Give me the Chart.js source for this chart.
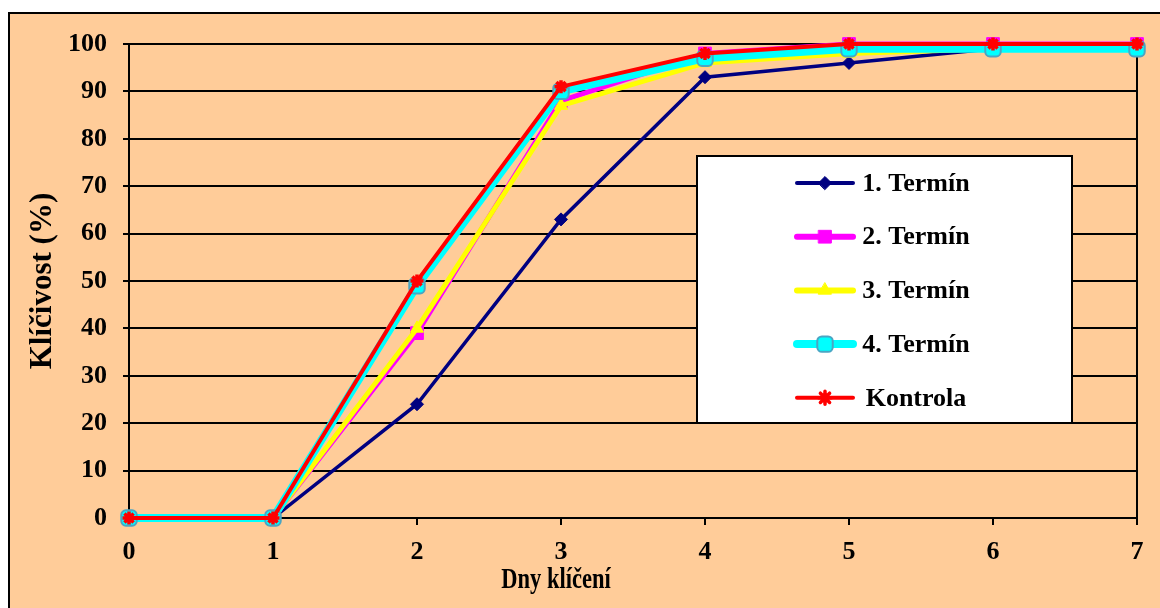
<!DOCTYPE html>
<html>
<head>
<meta charset="utf-8">
<script src="https://cdn.jsdelivr.net/npm/chart.js@4/dist/chart.umd.min.js"></script>
<style>
  html, body { margin: 0; padding: 0; background: #fff; }
  canvas { display: block; }
</style>
</head>
<body>
<canvas id="klicivost" width="1160" height="608"></canvas>
<script>
var days = [0, 1, 2, 3, 4, 5, 6, 7];
var labels = ["1. Termín", "2. Termín", "3. Termín", "4. Termín", "Kontrola"];
var termin1 = [0, 0, 24, 63, 93, 96, 99, 99];
var termin2 = [0, 0, 39, 88, 98, 100, 100, 100];
var termin3 = [0, 0, 40, 87, 96, 98, 99, 99];
var termin4 = [0, 0, 49, 90, 97, 99, 99, 99];
var kontrola = [0, 0, 50, 91, 98, 100, 100, 100];
var yTicks = [0, 10, 20, 30, 40, 50, 60, 70, 80, 90, 100];

var FONT = "'Liberation Serif', 'Times New Roman', serif";

var toPoints = function (vals) {
    return days.map(function (d, i) { return { x: d, y: vals[i] }; });
};

var styles = [
    { color: "#000080", width: 3.5, point: "rectRot", radius: 6.5, border: "#000080", bw: 1, legendWidth: 4 },
    { color: "#FF00FF", width: 5, point: "rect", radius: 9, border: "#FF00FF", bw: 1, legendWidth: 6 },
    { color: "#FFFF00", width: 5, point: "triangle", radius: 7.5, border: "#FFFF00", bw: 1, legendWidth: 6 },
    { color: "#00FFFF", width: 8, point: "rectRounded", radius: 9, border: "#4BA5C3", bw: 2, legendWidth: 8 },
    { color: "#FF0000", width: 4, point: "star", radius: 6.5, border: "#FF0000", bw: 3.5, legendWidth: 4 },
];
var series = [termin1, termin2, termin3, termin4, kontrola];
// red on top, then cyan, yellow, magenta, navy
var drawOrder = [4, 3, 2, 1, 0];

var datasets = series.map(function (vals, i) {
    var s = styles[i];
    return {
        label: labels[i],
        data: toPoints(vals),
        borderColor: s.color,
        backgroundColor: s.color,
        borderWidth: s.width,
        pointStyle: s.point,
        pointRadius: s.radius,
        pointBackgroundColor: s.color,
        pointBorderColor: s.border,
        pointBorderWidth: s.bw,
        tension: 0,
        clip: false,
        order: drawOrder[i],
    };
});

var panelPlugin = {
    id: "panel",
    beforeDraw: function (chart) {
        var ctx = chart.ctx;
        ctx.save();
        ctx.fillStyle = "#FFFFFF";
        ctx.fillRect(0, 0, chart.width, chart.height);
        ctx.fillStyle = "#FFCC99";
        ctx.fillRect(8, 12, chart.width - 8, chart.height - 12);
        ctx.strokeStyle = "#000000";
        ctx.lineWidth = 2;
        ctx.beginPath();
        ctx.moveTo(9, chart.height + 2);
        ctx.lineTo(9, 13);
        ctx.lineTo(chart.width + 2, 13);
        ctx.stroke();
        ctx.restore();
    },
    afterDraw: function (chart) {
        var ctx = chart.ctx;
        ctx.save();
        // x axis title (narrow, as in the original)
        ctx.fillStyle = "#000";
        ctx.font = "bold 30px " + FONT;
        ctx.textAlign = "center";
        ctx.textBaseline = "alphabetic";
        ctx.translate(556, 588);
        ctx.scale(0.75, 1);
        ctx.fillText("Dny klíčení", 0, 0);
        ctx.restore();

        ctx.save();
        // legend box
        var bx = 697, by = 156, bw = 375, bh = 267;
        ctx.fillStyle = "#FFFFFF";
        ctx.fillRect(bx, by, bw, bh);
        ctx.strokeStyle = "#000";
        ctx.lineWidth = 2;
        ctx.strokeRect(bx, by, bw, bh);
        var step = 53.7;
        datasets.forEach(function (ds, i) {
            var s = styles[i];
            var cy = by + 27 + i * step;
            ctx.strokeStyle = s.color;
            ctx.lineWidth = s.legendWidth;
            ctx.lineCap = "round";
            ctx.beginPath();
            ctx.moveTo(bx + 100, cy);
            ctx.lineTo(bx + 156, cy);
            ctx.stroke();
            ctx.fillStyle = s.color;
            ctx.strokeStyle = s.border;
            ctx.lineWidth = s.bw;
            Chart.helpers.drawPoint(ctx, { pointStyle: s.point, radius: s.radius, borderWidth: s.bw, rotation: 0 }, bx + 128, cy);
            ctx.fillStyle = "#000";
            ctx.font = "bold 26px " + FONT;
            ctx.textAlign = "center";
            ctx.textBaseline = "middle";
            ctx.fillText(ds.label, bx + 219, cy + 1);
        });
        ctx.restore();
    },
};

var ctx = document.getElementById("klicivost").getContext("2d");
var chart = new Chart(ctx, {
    type: "line",
    data: { datasets: datasets },
    plugins: [panelPlugin],
    options: {
        responsive: false,
        animation: false,
        events: [],
        layout: { padding: { top: 44, right: 23, bottom: 30, left: 0 } },
        plugins: {
            legend: { display: false },
            tooltip: { enabled: false },
        },
        scales: {
            x: {
                type: "linear",
                min: 0,
                max: 7,
                afterFit: function (scale) { scale.height = 60; },
                afterBuildTicks: function (scale) {
                    scale.ticks = days.map(function (d) { return { value: d }; });
                },
                ticks: {
                    stepSize: 1,
                    color: "#000",
                    padding: 12,
                    maxRotation: 0,
                    font: { family: FONT, size: 26, weight: "bold" },
                },
                grid: {
                    drawOnChartArea: true,
                    drawTicks: true,
                    tickLength: 7,
                    lineWidth: 2,
                    color: function (c) { return c.tick && c.tick.value === 7 ? "#000" : "rgba(0,0,0,0)"; },
                    tickColor: "#000",
                },
                border: { display: true, color: "#000", width: 2 },
            },
            y: {
                min: 0,
                max: 100,
                afterFit: function (scale) { scale.width = 129; },
                afterBuildTicks: function (scale) {
                    scale.ticks = yTicks.map(function (v) { return { value: v }; });
                },
                ticks: {
                    stepSize: 10,
                    color: "#000",
                    padding: 16,
                    font: { family: FONT, size: 26, weight: "bold" },
                },
                grid: {
                    color: "#000",
                    lineWidth: 2,
                    drawTicks: true,
                    tickLength: 6,
                    tickColor: "#000",
                },
                border: { display: true, color: "#000", width: 2 },
                title: {
                    display: true,
                    text: "Klíčivost (%)",
                    color: "#000",
                    padding: { top: 24, bottom: 0 },
                    font: { family: FONT, size: 31, weight: "bold" },
                },
            },
        },
    },
});
</script>
</body>
</html>
